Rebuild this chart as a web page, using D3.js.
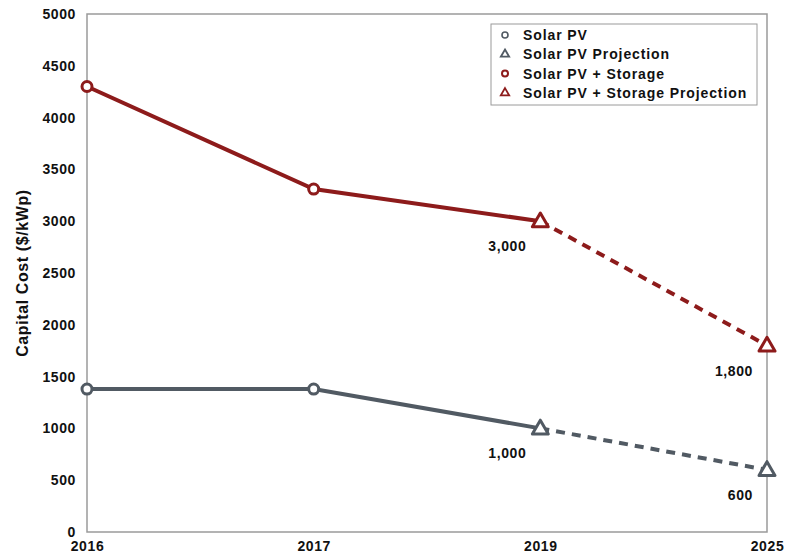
<!DOCTYPE html>
<html><head><meta charset="utf-8">
<script src="https://cdn.jsdelivr.net/npm/d3@7"></script>
<style>body{margin:0;background:#fff}svg text{font-family:"Liberation Sans",Arial,sans-serif;font-weight:bold}</style>
</head><body><svg id="c" width="787" height="558"></svg>
<script>
const years = ["2016","2017","2019","2025"];
const solarPV = [1380, 1380, 1000];
const solarPVProj = [1000, 600];
const storage = [4300, 3310, 3000];
const storageProj = [3000, 1800];
const yTicks = [0,500,1000,1500,2000,2500,3000,3500,4000,4500,5000];
const labels = [
  {year:"2019", value:3000, text:"3,000"},
  {year:"2025", value:1800, text:"1,800"},
  {year:"2019", value:1000, text:"1,000"},
  {year:"2025", value:600, text:"600"}
];
const legendItems = [
  {name:"Solar PV", color:"#515a63", shape:"circle"},
  {name:"Solar PV Projection", color:"#515a63", shape:"triangle"},
  {name:"Solar PV + Storage", color:"#8d1b1b", shape:"circle"},
  {name:"Solar PV + Storage Projection", color:"#8d1b1b", shape:"triangle"}
];
const gray = "#515a63", red = "#8d1b1b";
const svg = d3.select("#c");
const L=87,R=767,T=14,B=532;
const x = d3.scalePoint().domain(years).range([L,R]);
const y = d3.scaleLinear().domain([0,5000]).range([B,T]);

svg.append("rect").attr("x",L).attr("y",T).attr("width",R-L).attr("height",B-T)
  .attr("fill","none").attr("stroke","#9a9a9a").attr("stroke-width",1.5);

const ya = svg.append("g").attr("transform",`translate(${L},0)`)
  .call(d3.axisLeft(y).tickValues(yTicks).tickSize(0).tickPadding(11).tickFormat(d3.format("d")));
ya.select(".domain").remove();
ya.selectAll("text").attr("font-size",14).attr("letter-spacing","0.6px").attr("fill","#111").attr("font-family","Liberation Sans, Arial").attr("font-weight","bold");

const xa = svg.append("g").attr("transform",`translate(0,${B})`)
  .call(d3.axisBottom(x).tickSize(0).tickPadding(9));
xa.select(".domain").remove();
xa.selectAll("text").attr("font-size",14).attr("letter-spacing","0.6px").attr("fill","#111").attr("font-family","Liberation Sans, Arial").attr("font-weight","bold");

svg.append("text").attr("transform","translate(28,273) rotate(-90)").attr("text-anchor","middle")
  .attr("font-size",16).attr("letter-spacing","0.6px").attr("fill","#111").text("Capital Cost ($/kWp)");

const line = d3.line().x(d=>x(d[0])).y(d=>y(d[1]));
function draw(vals, yrs, color, dashed){
  svg.append("path").datum(vals.map((v,i)=>[yrs[i],v]))
    .attr("d",line).attr("fill","none").attr("stroke",color).attr("stroke-width",4)
    .attr("stroke-dasharray",dashed?"9,7":null);
}
draw(solarPV, years.slice(0,3), gray, false);
draw(solarPVProj, years.slice(2), gray, true);
draw(storage, years.slice(0,3), red, false);
draw(storageProj, years.slice(2), red, true);

const tri = d3.symbol().type(d3.symbolTriangle).size(110);
function markers(vals, yrs, color, shape){
  vals.forEach((v,i)=>{
    if(shape==="circle"){
      svg.append("circle").attr("cx",x(yrs[i])).attr("cy",y(v)).attr("r",5)
        .attr("fill","#fff").attr("stroke",color).attr("stroke-width",3);
    } else {
      svg.append("path").attr("d",tri).attr("transform",`translate(${x(yrs[i])},${y(v)+1})`)
        .attr("fill","#fff").attr("stroke",color).attr("stroke-width",3).attr("stroke-linejoin","round");
    }
  });
}
markers(solarPV.slice(0,2), years.slice(0,2), gray, "circle");
markers(solarPVProj, years.slice(2), gray, "triangle");
markers(storage.slice(0,2), years.slice(0,2), red, "circle");
markers(storageProj, years.slice(2), red, "triangle");

labels.forEach(l=>{
  svg.append("text").attr("x",x(l.year)-14).attr("y",y(l.value)+30).attr("text-anchor","end")
    .attr("font-size",14).attr("letter-spacing","0.6px").attr("fill","#111").text(l.text);
});

const lg = svg.append("g");
lg.append("rect").attr("x",491).attr("y",24).attr("width",266).attr("height",81)
  .attr("fill","#fff").attr("stroke","#9a9a9a").attr("stroke-width",1);
const lsym = d3.symbol().type(d3.symbolTriangle).size(30);
legendItems.forEach((it,i)=>{
  const cy = 35 + i*19.3;
  if(it.shape==="circle"){
    lg.append("circle").attr("cx",505).attr("cy",cy).attr("r",3).attr("fill","#fff").attr("stroke",it.color).attr("stroke-width",it.color===red?2:1.6);
  } else {
    lg.append("path").attr("d",lsym).attr("transform",`translate(505,${cy})`).attr("fill","#fff").attr("stroke",it.color).attr("stroke-width",1.8);
  }
  lg.append("text").attr("x",523).attr("y",cy+5).attr("font-size",14).attr("letter-spacing","0.9px").attr("fill","#111").text(it.name);
});
</script></body></html>
